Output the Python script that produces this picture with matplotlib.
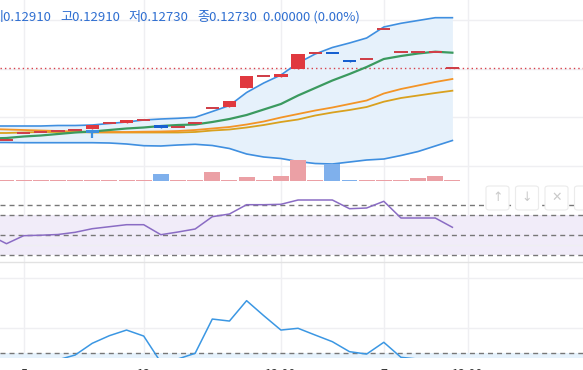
import numpy as np
import matplotlib
matplotlib.use("Agg")
import matplotlib.pyplot as plt
from matplotlib.patches import Rectangle, FancyBboxPatch

plt.rcParams['font.family'] = ['Noto Sans CJK KR', 'DejaVu Sans']

# ---------------- data ----------------
idx = np.arange(-1, 27)

open_ = [0.12680, 0.12680, 0.126875, 0.12688, 0.12689, 0.126905, 0.126915, 0.126967,
         0.126973, 0.12700, 0.12695, 0.126933, 0.126967, 0.127123, 0.127133, 0.127317,
         0.12744, 0.127433, 0.127513, 0.127667, 0.127677, 0.12760, 0.12761, 0.127907,
         0.127677, 0.127677, 0.127683, 0.127517]
close = [0.12680, 0.12680, 0.126875, 0.12688, 0.12689, 0.126905, 0.12695, 0.126967,
         0.12700, 0.12700, 0.126917, 0.126933, 0.126967, 0.127123, 0.127193, 0.12744,
         0.12744, 0.12746, 0.12766, 0.127667, 0.127672, 0.127583, 0.12761, 0.127907,
         0.127677, 0.127677, 0.127683, 0.127517]
high = [max(o, c) for o, c in zip(open_, close)]
low = [min(o, c) for o, c in zip(open_, close)]

# small light-blue candle drawn under candle 5
mark_i = [5]
mark_open = [0.12690]
mark_close = [0.12687]
mark_low = [0.126825]

volume = [1500, 1500, 1500, 1500, 1500, 1500, 1500, 1500, 1500, 1500, 7500, 1500, 1500,
          8800, 1500, 3800, 1500, 4800, 21500, 1500, 17000, 1500, 1500, 1500, 1500,
          2800, 4800, 1500]

bb_upper = [0.12694, 0.12694, 0.12694, 0.12694, 0.126945, 0.126945, 0.12695, 0.126965,
            0.12698, 0.12700, 0.12701, 0.127017, 0.127027, 0.127085, 0.127145, 0.127275,
            0.12737, 0.12745, 0.12757, 0.12766, 0.127725, 0.12777, 0.12782, 0.12793,
            0.127967, 0.127995, 0.128023, 0.128023]
bb_lower = [0.126775, 0.126775, 0.126773, 0.126773, 0.126773, 0.126773, 0.126773, 0.12677,
            0.12676, 0.126743, 0.12674, 0.12675, 0.126757, 0.126745, 0.126715, 0.12666,
            0.12663, 0.126615, 0.126585, 0.126565, 0.12656, 0.12658, 0.1266, 0.12661,
            0.126645, 0.126685, 0.12674, 0.126795]
ma_green = [0.126815, 0.12682, 0.126835, 0.126845, 0.12686, 0.126875, 0.126885, 0.1269,
            0.126915, 0.126925, 0.12694, 0.12695, 0.126955, 0.12698, 0.12701, 0.12705,
            0.127105, 0.12716, 0.127245, 0.12732, 0.127395, 0.12746, 0.12753, 0.12761,
            0.12764, 0.127665, 0.127683, 0.127673]
ma_orange = [0.12691, 0.126905, 0.1269, 0.126895, 0.12689, 0.126885, 0.12688, 0.12688,
             0.12688, 0.126883, 0.126885, 0.12689, 0.1269, 0.126915, 0.12693, 0.126955,
             0.126985, 0.127025, 0.12706, 0.127095, 0.127125, 0.12716, 0.127195, 0.127265,
             0.12731, 0.127345, 0.12738, 0.12741]
ma_gold = [0.12687, 0.12687, 0.126875, 0.12688, 0.12688, 0.12688, 0.126875, 0.126875,
           0.126875, 0.126875, 0.126875, 0.126875, 0.12688, 0.126895, 0.126905, 0.126925,
           0.12695, 0.12698, 0.127005, 0.127045, 0.127075, 0.1271, 0.12713, 0.127183,
           0.12722, 0.127245, 0.12727, 0.127293]
last_price = 0.12752

rsi = [50, 41.3, 49.3, 49.8, 50.5, 52.7, 56.3, 58.3, 60.3, 60.3, 50.3, 53, 56, 68.3,
       71, 80.3, 80.3, 80.7, 85, 85, 85, 76.3, 77, 83.7, 67, 67, 67, 57.7]
rsi_levels = [80, 70, 50, 30]

osc = [10, 8, 8, 10, 14.8, 18.6, 28, 34.1, 38.6, 33.8, 12.8, 15.5, 20, 47.4, 45.8,
       62.1, 50.1, 38.6, 40, 34.6, 29.3, 21.3, 19.4, 28.8, 16.8, 15.4, 13, 11]
osc_level = 20

legend_labels = ["시0.12910", "고0.12910", "저0.12730", "종0.12730", "0.00000 (0.00%)"]
time_labels = ["5", "12", "12:00", "7", "12:00"]
time_pos = [1, 8, 16, 22, 26.9]
main_grid = [0.1280, 0.127515, 0.12703, 0.12654]

# ---------------- layout ----------------
W, H = 583, 370
fig = plt.figure(figsize=(W / 100, H / 100), dpi=100)
fig.patch.set_facecolor('white')

def fax(top, bottom):
    return fig.add_axes([0, 1 - bottom / H, 1, (bottom - top) / H])

X0, DX = 6.5, 17.15
xlim = ((0 - X0) / DX, (W - X0) / DX)

ax = fax(0, 181)
axr = fax(181, 262.3)
axl = fax(262.3, 358.3)
axv = fax(0, 181)
axv.patch.set_alpha(0)

grid_c = '#efeff2'
for a in (ax, axr, axl, axv):
    a.set_xlim(*xlim)
    for s in a.spines.values():
        s.set_visible(False)
    a.set_xticks([])
    a.set_yticks([])
for a in (ax, axr, axl):
    for p in time_pos:
        a.axvline(p, color=grid_c, lw=1, zorder=0)

# main panel
ax.set_ylim(0.1282 - 181e-5, 0.1282)
for g in main_grid:
    ax.axhline(g, color=grid_c, lw=1, zorder=0)

ax.fill_between(idx, bb_lower, bb_upper, color='#e6f1fb', lw=0, zorder=1)
ax.plot(idx, bb_upper, color='#3f8fe0', lw=1.2, zorder=3)
ax.plot(idx, bb_lower, color='#3f8fe0', lw=1.2, zorder=3)
ax.plot(idx, ma_gold, color='#d9a11e', lw=1.3, zorder=3)
ax.plot(idx, ma_orange, color='#f39426', lw=1.3, zorder=3)
ax.plot(idx, ma_green, color='#3b9a5f', lw=1.6, zorder=3)

ax.axhline(last_price, color='#d8404a', lw=1.0, ls=(0, (1, 2.2)), zorder=2)

bw = 0.78
min_h = 2e-5
for i, o, c, h, l in zip(idx, open_, close, high, low):
    col = '#e0393f' if c >= o else '#1760d0'
    ax.vlines(i, l, h, color=col, lw=1, zorder=4)
    b = min(o, c)
    hh = max(abs(c - o), min_h)
    if abs(c - o) < min_h:
        b = (o + c) / 2 - min_h / 2
        col = '#cf4049' if c >= o else '#1760d0'
    ax.add_patch(Rectangle((i - bw / 2, b), bw, hh, color=col, lw=0, zorder=5))

for i, o, c, l in zip(mark_i, mark_open, mark_close, mark_low):
    ax.vlines(i, l, min(o, c), color='#3d8fdf', lw=1.6, zorder=6)
    ax.add_patch(Rectangle((i - bw / 2, min(o, c)), bw, abs(o - c), color='#3d8fdf', lw=0, zorder=6))

# volume
axv.set_ylim(0, 181000)
vcols = ['#eba0a5' if c >= o else '#7fb0ec' for o, c in zip(open_, close)]
axv.bar(idx, volume, width=0.93, color=vcols, lw=0, zorder=2)

# legend text
blue = '#2f6fd1'
leg_x = [-8.5, 60, 128, 197, 263]
for t, x in zip(legend_labels, leg_x):
    fig.text(x / W, 1 - 17.5 / H, t, color=blue, fontsize=9.5, va='center', ha='left')

# RSI panel
axr.set_ylim(285 - 262.3, 285 - 181)
axr.axhspan(30, 70, color='#f1ecf9', lw=0, zorder=0)
axr.axhline(40, color=grid_c, lw=1, zorder=0)
for lv in rsi_levels:
    axr.axhline(lv, color='#777777', lw=1.0, ls=(0, (3.6, 2.9)), zorder=2)
axr.plot(idx, rsi, color='#8a6cc4', lw=1.1, zorder=3)

# separator
fig.add_artist(plt.Line2D([0, 1], [1 - 262.3 / H] * 2, color='#e2e2e2', lw=1))

# icons
for k, g in enumerate(['↑', '↓', '✕', '⋮']):
    x0 = 486 + k * 29.5
    fig.add_artist(FancyBboxPatch((x0 / W, 1 - 210 / H), 23 / W, 24 / H,
                                  boxstyle='round,pad=0,rounding_size=0.006',
                                  transform=fig.transFigure, fc='white',
                                  ec='#ebebeb', lw=0.8, zorder=10))
    fig.text((x0 + 11.5) / W, 1 - 197.5 / H, g, color='#cacaca', fontsize=9,
             ha='center', va='center', family='DejaVu Sans', zorder=11)

# lower oscillator panel
axl.set_ylim((378.3 - 358.3) / 1.25, (378.3 - 262.3) / 1.25)
axl.axhspan(0, osc_level, color='#e6f2fc', lw=0, zorder=0)
for g in (40, 80):
    axl.axhline(g, color=grid_c, lw=1, zorder=0)
axl.axhline(osc_level, color='#777777', lw=1.0, ls=(0, (3.6, 2.9)), zorder=2)
axl.plot(idx, osc, color='#3b97e3', lw=1.1, zorder=3)

# time labels (mostly cut off at the bottom edge)
for t, p in zip(time_labels, time_pos):
    fig.text((X0 + p * DX) / W, 1 - 367.6 / H, t, color='#333333', fontsize=9,
             ha='center', va='top')

fig.savefig('out.png', dpi=100, facecolor='white')
